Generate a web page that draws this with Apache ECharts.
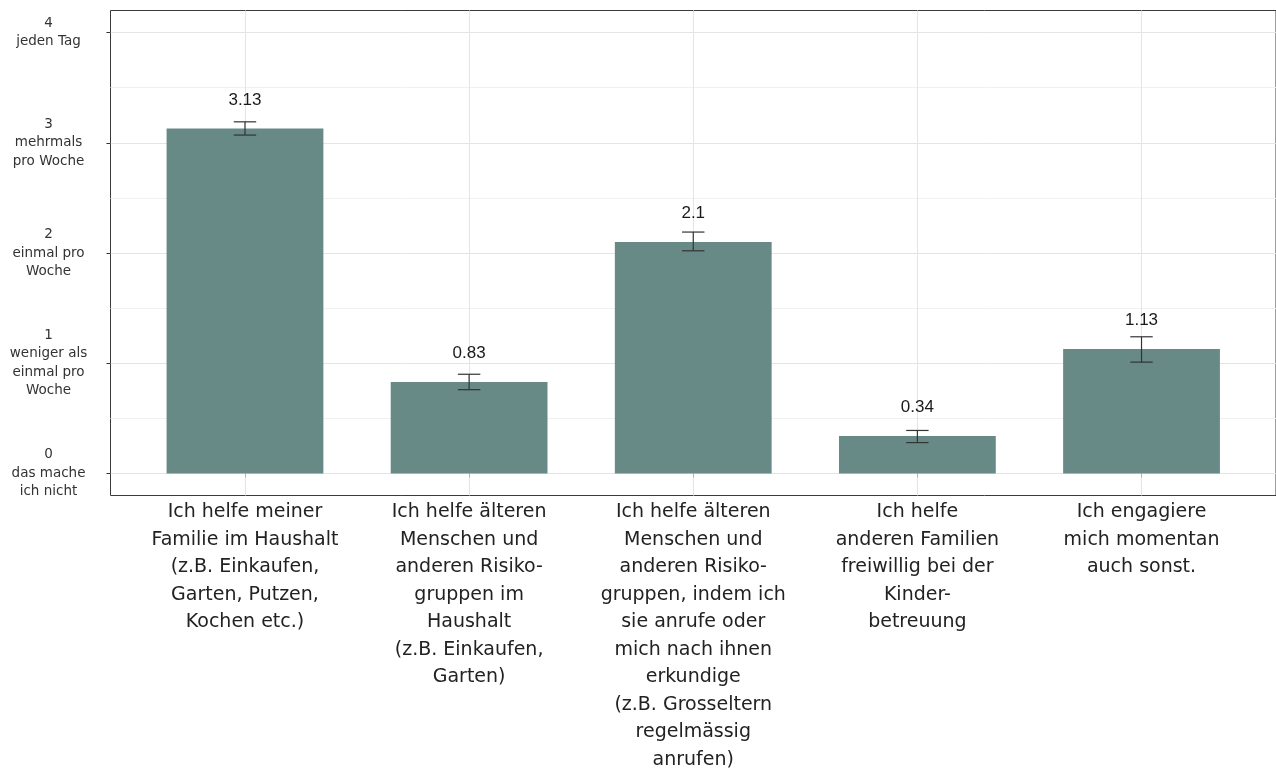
<!DOCTYPE html>
<html>
<head>
<meta charset="utf-8">
<script src="https://cdn.jsdelivr.net/npm/echarts@6/dist/echarts.min.js"></script>
<style>
  html, body { margin: 0; padding: 0; background: #ffffff; }
  #chart { width: 1276px; height: 770px; }
</style>
</head>
<body>
<div id="chart"></div>
<script>
// Activity categories (one bar each)
const categories = [
  'Ich helfe meiner\nFamilie im Haushalt\n(z.B. Einkaufen,\nGarten, Putzen,\nKochen etc.)',
  'Ich helfe älteren\nMenschen und\nanderen Risiko-\ngruppen im\nHaushalt\n(z.B. Einkaufen,\nGarten)',
  'Ich helfe älteren\nMenschen und\nanderen Risiko-\ngruppen, indem ich\nsie anrufe oder\nmich nach ihnen\nerkundige\n(z.B. Grosseltern\nregelmässig\nanrufen)',
  'Ich helfe\nanderen Familien\nfreiwillig bei der\nKinder-\nbetreuung',
  'Ich engagiere\nmich momentan\nauch sonst.'
];
// Mean frequency and error-bar limits
const means = [3.13, 0.83, 2.1, 0.34, 1.13];
const lower = [3.07, 0.76, 2.02, 0.28, 1.01];
const upper = [3.19, 0.90, 2.19, 0.39, 1.24];

// Frequency scale
const yTicks = [0, 1, 2, 3, 4];
const yTickLabels = [
  '0\ndas mache\nich nicht',
  '1\nweniger als\neinmal pro\nWoche',
  '2\neinmal pro\nWoche',
  '3\nmehrmals\npro Woche',
  '4\njeden Tag'
];
const yMinorLines = [0.5, 1.5, 2.5, 3.5];
const xPositions = categories.map((c, i) => i + 1);

const BAR_COLOR = '#678a87';
const GRID_MAJOR = '#e4e4e4';
const GRID_MINOR = '#f0f0f0';

const chart = echarts.init(document.getElementById('chart'), null, { renderer: 'canvas' });

chart.setOption({
  backgroundColor: '#ffffff',
  animation: false,
  grid: {
    left: 110.5, top: 10.5, right: 0, bottom: 274.5,
    outerBoundsMode: 'none', containLabel: false,
    show: true, borderColor: '#3a3a3a', borderWidth: 1, backgroundColor: 'transparent'
  },
  xAxis: {
    type: 'value', min: 0.4, max: 5.6,
    axisLine: { show: false },
    axisTick: { show: true, customValues: xPositions, length: 4, lineStyle: { color: '#b0b0b0' } },
    axisLabel: {
      customValues: xPositions,
      formatter: v => categories[Math.round(v) - 1] || '',
      fontFamily: 'DejaVu Sans', fontSize: 19, lineHeight: 27.5, color: '#222', margin: 3,
      align: 'center', verticalAlign: 'top'
    },
    splitLine: { show: true, lineStyle: { color: GRID_MAJOR, width: 1 } }
  },
  yAxis: [
    {
      type: 'value', min: -0.2, max: 4.2,
      axisLine: { show: false },
      axisTick: { show: true, customValues: yTicks, length: 4, lineStyle: { color: '#333' } },
      axisLabel: {
        customValues: yTicks,
        formatter: v => { const k = yTicks.indexOf(Math.round(v)); return k >= 0 ? yTickLabels[k] : ''; },
        fontFamily: 'DejaVu Sans', fontSize: 13.5, lineHeight: 18.5, color: '#333',
        align: 'center', margin: 62
      },
      splitLine: { show: true, lineStyle: { color: GRID_MAJOR, width: 1 } }
    },
    {
      type: 'value', min: -0.2, max: 4.2, position: 'left',
      axisLine: { show: false },
      axisTick: { show: false, customValues: yMinorLines },
      axisLabel: { show: false, customValues: yMinorLines },
      splitLine: { show: true, lineStyle: { color: GRID_MINOR, width: 1 } }
    }
  ],
  series: [
    {
      type: 'bar',
      data: means.map((v, i) => [xPositions[i], v]),
      barWidth: 156.8,
      itemStyle: { color: BAR_COLOR },
      label: {
        show: true, position: 'top', distance: 20,
        formatter: p => String(p.value[1]),
        fontFamily: 'Liberation Sans', fontSize: 17, color: '#1a1a1a'
      },
      z: 2
    },
    {
      type: 'custom',
      data: means.map((v, i) => [xPositions[i], lower[i], upper[i]]),
      renderItem: (params, api) => {
        const x = api.value(0);
        const lo = api.coord([x, api.value(1)]);
        const hi = api.coord([x, api.value(2)]);
        const half = api.size([0.1, 0])[0] / 2;
        const style = { stroke: '#333', lineWidth: 1.2 };
        return {
          type: 'group',
          children: [
            { type: 'line', shape: { x1: lo[0], y1: lo[1], x2: hi[0], y2: hi[1] }, style },
            { type: 'line', shape: { x1: hi[0] - half, y1: hi[1], x2: hi[0] + half, y2: hi[1] }, style },
            { type: 'line', shape: { x1: lo[0] - half, y1: lo[1], x2: lo[0] + half, y2: lo[1] }, style }
          ]
        };
      },
      z: 3
    }
  ]
});
</script>
</body>
</html>
